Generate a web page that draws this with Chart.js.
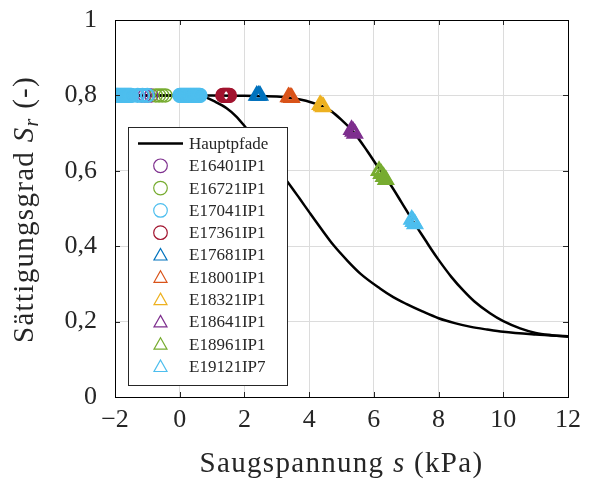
<!DOCTYPE html>
<html>
<head>
<meta charset="utf-8">
<script src="https://cdn.jsdelivr.net/npm/chart.js@4.4.1/dist/chart.umd.min.js"></script>
<style>
  html, body { margin: 0; padding: 0; background: #fff; }
  canvas { display: block; }
</style>
</head>
<body>
<canvas id="chart" width="590" height="485"></canvas>
<script>
// main paths (Hauptpfade)
const dryingS = [-2, 0, 1, 2, 2.5, 3.0, 3.4, 3.72, 4.05, 4.39, 4.7, 5.0, 5.36, 5.8, 6.29, 6.5, 6.85, 7.22, 7.6, 7.79, 7.99, 8.4, 8.77, 9.1, 9.59, 10.0, 10.52, 11.0, 11.5, 12];
const dryingSr = [0.8, 0.8, 0.8, 0.799, 0.798, 0.797, 0.794, 0.789, 0.782, 0.772, 0.757, 0.735, 0.704, 0.652, 0.589, 0.565, 0.517, 0.465, 0.415, 0.39, 0.365, 0.318, 0.282, 0.254, 0.222, 0.201, 0.182, 0.17, 0.164, 0.16];
const wettingS = [-2, 0, 0.3, 0.75, 1.1, 1.45, 1.75, 2.02, 2.4, 2.8, 3.33, 3.7, 4.03, 4.4, 4.75, 5.2, 5.6, 6.19, 6.6, 7.0, 7.5, 8.0, 8.5, 9.0, 9.5, 10, 11, 12];
const wettingSr = [0.8, 0.8, 0.8, 0.796, 0.783, 0.766, 0.744, 0.717, 0.677, 0.63, 0.571, 0.527, 0.487, 0.443, 0.403, 0.36, 0.326, 0.288, 0.265, 0.247, 0.227, 0.209, 0.196, 0.186, 0.179, 0.173, 0.166, 0.161];

// measurement series
const seriesNames = ["E16401IP1", "E16721IP1", "E17041IP1", "E17361IP1", "E17681IP1", "E18001IP1", "E18321IP1", "E18641IP1", "E18961IP1", "E19121IP7"];
const seriesS = [
  [-1.18, -1.08, -0.98, -0.88],
  [-0.74, -0.64, -0.54, -0.44],
  [-2.0, -1.97, -1.94, -1.91, -1.88, -1.85, -1.82, -1.79, -1.76, -1.73, -1.7, -1.67, -1.64, -1.61, -1.58, -1.55, -1.52, -1.49,
   -1.3, -1.15, -1.0,
   0.0, 0.03, 0.06, 0.09, 0.12, 0.15, 0.18, 0.21, 0.24, 0.27, 0.3, 0.33, 0.36, 0.39, 0.42, 0.45, 0.48, 0.51, 0.54, 0.57, 0.6, 0.63],
  [1.33, 1.36, 1.39, 1.42, 1.45, 1.48, 1.51, 1.54],
  [2.38, 2.43, 2.48],
  [3.36, 3.41, 3.46],
  [4.34, 4.39, 4.44],
  [5.31, 5.36, 5.41],
  [6.16, 6.23, 6.3, 6.37],
  [7.17, 7.22, 7.27]
];
const seriesSr = [
  [0.8, 0.8, 0.8, 0.8],
  [0.8, 0.8, 0.8, 0.8],
  [0.8, 0.8, 0.8, 0.8, 0.8, 0.8, 0.8, 0.8, 0.8, 0.8, 0.8, 0.8, 0.8, 0.8, 0.8, 0.8, 0.8, 0.8,
   0.8, 0.8, 0.8,
   0.8, 0.8, 0.8, 0.8, 0.8, 0.8, 0.8, 0.8, 0.8, 0.8, 0.8, 0.8, 0.8, 0.8, 0.8, 0.8, 0.8, 0.8, 0.8, 0.8, 0.8, 0.8],
  [0.8, 0.8, 0.8, 0.8, 0.8, 0.8, 0.8, 0.8],
  [0.8, 0.8, 0.8],
  [0.796, 0.795, 0.794],
  [0.775, 0.772, 0.769],
  [0.709, 0.704, 0.699],
  [0.6, 0.592, 0.584, 0.576],
  [0.471, 0.465, 0.459]
];
const seriesColors = ["#7E2F8E", "#77AC30", "#4DBEEE", "#A2142F", "#0072BD", "#D95319", "#EDB120", "#7E2F8E", "#77AC30", "#4DBEEE"];
const seriesMarkers = ["circle", "circle", "circle", "circle", "triangle", "triangle", "triangle", "triangle", "triangle", "triangle"];

const xTicks = [-2, 0, 2, 4, 6, 8, 10, 12];
const yTicks = [0, 0.2, 0.4, 0.6, 0.8, 1];

const serif = '"Liberation Serif", "Times New Roman", serif';

function pairs(xs, ys) {
  return xs.map((x, i) => ({ x: x, y: ys[i] }));
}

const datasets = [
  {
    label: "Hauptpfade",
    data: pairs(dryingS, dryingSr),
    borderColor: "#000",
    borderWidth: 2.5,
    pointRadius: 0,
    showLine: true,
    cubicInterpolationMode: "monotone",
    order: 200,
  },
  {
    label: "Hauptpfade (Befeuchtung)",
    data: pairs(wettingS, wettingSr),
    borderColor: "#000",
    borderWidth: 2.5,
    pointRadius: 0,
    showLine: true,
    cubicInterpolationMode: "monotone",
    order: 199,
  },
];
seriesNames.forEach((name, i) => {
  const tri = seriesMarkers[i] === "triangle";
  datasets.push({
    label: name,
    data: pairs(seriesS[i], seriesSr[i]),
    borderColor: seriesColors[i],
    backgroundColor: "rgba(0,0,0,0)",
    pointStyle: seriesMarkers[i],
    pointRadius: tri ? 7.5 : 6.5,
    pointBorderWidth: tri ? 3 : (i === 2 || i === 3 ? 2.2 : 1.5),
    showLine: false,
    order: 100 - i,
  });
});

const AREA = { left: 115, top: 20, right: 568, bottom: 397 };

function drawParts(ctx, parts, x0, y0) {
  // parts: [text, font, dy]
  let x = x0;
  parts.forEach((p) => {
    ctx.font = p[1];
    ctx.fillText(p[0], x, y0 + p[2]);
    x += ctx.measureText(p[0]).width;
  });
}
function partsWidth(ctx, parts) {
  let w = 0;
  parts.forEach((p) => {
    ctx.font = p[1];
    w += ctx.measureText(p[0]).width;
  });
  return w;
}

const decor = {
  id: "decor",
  afterDraw(chart) {
    const { ctx, chartArea: a, scales } = chart;
    ctx.save();

    // inward tick marks on all four sides
    ctx.strokeStyle = "#262626";
    ctx.lineWidth = 1;
    const tl = 5;
    ctx.beginPath();
    xTicks.forEach((t) => {
      const x = Math.round(scales.x.getPixelForValue(t)) + 0.5;
      ctx.moveTo(x, a.bottom); ctx.lineTo(x, a.bottom - tl);
      ctx.moveTo(x, a.top); ctx.lineTo(x, a.top + tl);
    });
    yTicks.forEach((t) => {
      const y = Math.round(scales.y.getPixelForValue(t)) + 0.5;
      ctx.moveTo(a.left, y); ctx.lineTo(a.left + tl, y);
      ctx.moveTo(a.right, y); ctx.lineTo(a.right - tl, y);
    });
    ctx.stroke();

    // box
    ctx.strokeStyle = "#000";
    ctx.strokeRect(Math.round(a.left) + 0.5, Math.round(a.top) + 0.5,
      Math.round(a.right - a.left), Math.round(a.bottom - a.top));

    // legend
    const lx = 128.5, ly = 127.5, lw = 159, lh = 258, step = 22.3;
    ctx.fillStyle = "#fff";
    ctx.fillRect(lx, ly, lw, lh);
    ctx.strokeStyle = "#262626";
    ctx.strokeRect(lx, ly, lw, lh);
    ctx.font = "17px " + serif;
    ctx.fillStyle = "#262626";
    ctx.textBaseline = "middle";
    ctx.textAlign = "left";
    let y = 143.5;
    ctx.strokeStyle = "#000";
    ctx.lineWidth = 2.5;
    ctx.beginPath();
    ctx.moveTo(138, y); ctx.lineTo(183, y);
    ctx.stroke();
    ctx.fillText("Hauptpfade", 189, y + 1);
    seriesNames.forEach((name, i) => {
      y += step;
      ctx.strokeStyle = seriesColors[i];
      ctx.lineWidth = 1.2;
      ctx.beginPath();
      if (seriesMarkers[i] === "circle") {
        ctx.arc(160.5, y, 6.8, 0, Math.PI * 2);
      } else {
        ctx.moveTo(160.5, y - 6.5);
        ctx.lineTo(167, y + 5);
        ctx.lineTo(154, y + 5);
        ctx.closePath();
      }
      ctx.stroke();
      ctx.fillStyle = "#262626";
      ctx.fillText(name, 189, y + 1);
    });

    // axis titles
    ctx.fillStyle = "#262626";
    ctx.textBaseline = "alphabetic";
    ctx.letterSpacing = "1.3px";
    const fN = "29px " + serif, fI = "italic 29px " + serif, fS = "italic 20px " + serif;
    const xParts = [["Saugspannung ", fN, 0], ["s", fI, 0], [" (kPa)", fN, 0]];
    const xw = partsWidth(ctx, xParts);
    drawParts(ctx, xParts, (a.left + a.right) / 2 - xw / 2, 472);

    ctx.translate(33, (a.top + a.bottom) / 2 + 1);
    ctx.rotate(-Math.PI / 2);
    const yParts = [["Sättigungsgrad ", fN, 0], ["S", fI, 0], ["r", fS, 5], [" (-)", fN, 0]];
    const yw = partsWidth(ctx, yParts);
    drawParts(ctx, yParts, -yw / 2, 0);

    ctx.restore();
  },
};

new Chart(document.getElementById("chart"), {
  type: "scatter",
  data: { datasets: datasets },
  options: {
    responsive: false,
    animation: false,
    devicePixelRatio: 1,
    layout: { padding: { top: AREA.top, right: 590 - AREA.right, left: 0, bottom: 0 } },
    plugins: {
      legend: { display: false },
      tooltip: { enabled: false },
    },
    scales: {
      x: {
        type: "linear",
        min: -2,
        max: 12,
        afterFit: (scale) => {
          scale.height = 485 - AREA.bottom;
          scale.paddingLeft = 0;
          scale.paddingRight = 0;
        },
        afterBuildTicks: (scale) => { scale.ticks = xTicks.map((v) => ({ value: v })); },
        ticks: {
          color: "#262626",
          font: { family: serif, size: 26 },
          padding: 8,
          maxRotation: 0,
          autoSkip: false,
          callback: (v) => String(v).replace("-", "\u2212"),
        },
        grid: { color: "#dcdcdc", lineWidth: 1, drawTicks: false },
        border: { display: false },
      },
      y: {
        type: "linear",
        min: 0,
        max: 1,
        afterFit: (scale) => {
          scale.width = AREA.left;
          scale.paddingTop = 0;
          scale.paddingBottom = 0;
        },
        afterBuildTicks: (scale) => { scale.ticks = yTicks.map((v) => ({ value: v })); },
        ticks: {
          color: "#262626",
          font: { family: serif, size: 26 },
          padding: 18,
          autoSkip: false,
          callback: (v) => String(Math.round(v * 10) / 10).replace(".", ","),
        },
        grid: { color: "#dcdcdc", lineWidth: 1, drawTicks: false },
        border: { display: false },
      },
    },
  },
  plugins: [decor],
});
</script>
</body>
</html>
